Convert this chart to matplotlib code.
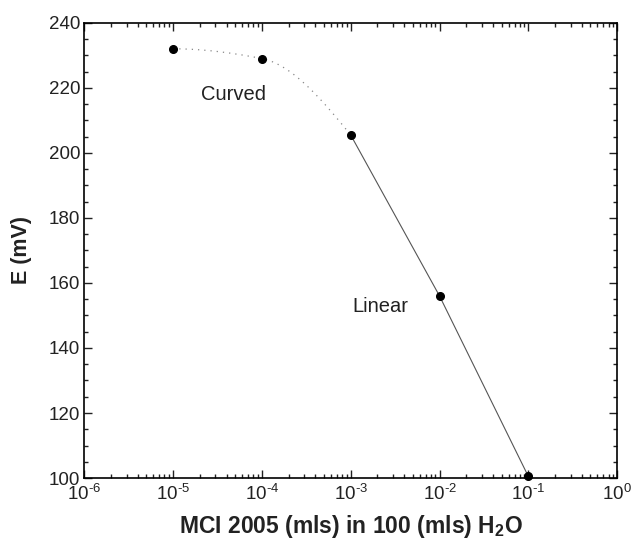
import numpy as np
import matplotlib
matplotlib.use("Agg")
import matplotlib.pyplot as plt
from matplotlib.ticker import MultipleLocator, LogLocator, FuncFormatter

plt.rcParams["font.family"] = ["Liberation Sans", "DejaVu Sans"]
plt.rcParams["mathtext.fontset"] = "custom"
plt.rcParams["mathtext.rm"] = "Liberation Sans"
plt.rcParams["mathtext.bf"] = "Liberation Sans:bold"

# data
conc = [1e-5, 1e-4, 1e-3, 1e-2, 1e-1]
emf = [232.0, 229.0, 205.5, 156.0, 100.5]
n_curved = 3  # first three points joined by the curved (dotted) part


def pchip(x, y, xs):
    """Monotone cubic through (x, y), evaluated at xs."""
    x = np.asarray(x, float)
    y = np.asarray(y, float)
    h = np.diff(x)
    d = np.diff(y) / h
    m = np.zeros_like(y)
    for k in range(1, len(x) - 1):
        if d[k - 1] * d[k] > 0:
            w1 = 2 * h[k] + h[k - 1]
            w2 = h[k] + 2 * h[k - 1]
            m[k] = (w1 + w2) / (w1 / d[k - 1] + w2 / d[k])
    m0 = ((2 * h[0] + h[1]) * d[0] - h[0] * d[1]) / (h[0] + h[1])
    m[0] = 0 if m0 * d[0] <= 0 else m0
    mn = ((2 * h[-1] + h[-2]) * d[-1] - h[-1] * d[-2]) / (h[-1] + h[-2])
    m[-1] = 0 if mn * d[-1] <= 0 else mn
    out = np.empty_like(xs)
    for i, xv in enumerate(xs):
        k = min(max(np.searchsorted(x, xv) - 1, 0), len(x) - 2)
        t = (xv - x[k]) / h[k]
        h00 = 2 * t**3 - 3 * t**2 + 1
        h10 = t**3 - 2 * t**2 + t
        h01 = -2 * t**3 + 3 * t**2
        h11 = t**3 - t**2
        out[i] = h00 * y[k] + h10 * h[k] * m[k] + h01 * y[k + 1] + h11 * h[k] * m[k + 1]
    return out


def log_fmt(v, pos):
    e = int(round(np.log10(v)))
    if e < 0:
        return r"$\mathdefault{10^{\text{-}%d}}$" % (-e)
    return r"$\mathdefault{10^{%d}}$" % e


fig = plt.figure(figsize=(6.33, 5.42), dpi=100)
ax = fig.add_axes([0.133, 0.118, 0.842, 0.840])

# curved part (dotted)
lx = np.log10(conc[:n_curved])
xs = np.linspace(lx[0], lx[-1], 200)
ax.plot(10**xs, pchip(lx, emf[:n_curved], xs), color="#888888",
        lw=0.9, ls=(0, (1, 4)))
# linear part
ax.plot(conc[n_curved - 1:], emf[n_curved - 1:], color="#555555", lw=0.8)
ax.plot(conc, emf, "o", color="black", ms=5.5, clip_on=False, zorder=5)

ax.set_xscale("log")
ax.set_xlim(1e-6, 1)
ax.set_ylim(100, 240)
ax.yaxis.set_major_locator(MultipleLocator(20))
ax.yaxis.set_minor_locator(MultipleLocator(5))
ax.xaxis.set_major_locator(LogLocator(base=10, numticks=10))
ax.xaxis.set_minor_locator(LogLocator(base=10, subs=np.arange(2, 10), numticks=10))
ax.xaxis.set_major_formatter(FuncFormatter(log_fmt))

ax.tick_params(which="both", direction="in", top=True, right=True,
               labelsize=13.5, width=1, colors="#222222")
ax.tick_params(which="major", length=6, pad=3)
ax.tick_params(axis="x", which="major", pad=4)
ax.tick_params(which="minor", length=3)
for s in ax.spines.values():
    s.set_linewidth(1.2)

ax.text(4.8e-5, 217.8, "Curved", fontsize=14.5, ha="center", va="center",
        color="#222222")
ax.text(2.14e-3, 152.6, "Linear", fontsize=14.5, ha="center", va="center",
        color="#222222")

ax.set_ylabel("E (mV)", fontsize=15.5, fontweight="bold", labelpad=12,
              color="#222222")
ax.set_xlabel(r"MCI 2005 (mls) in 100 (mls) H$_\mathbf{2}$O",
              fontsize=16.5, fontweight="bold", labelpad=7, color="#222222")

fig.savefig("out.png", dpi=100)
